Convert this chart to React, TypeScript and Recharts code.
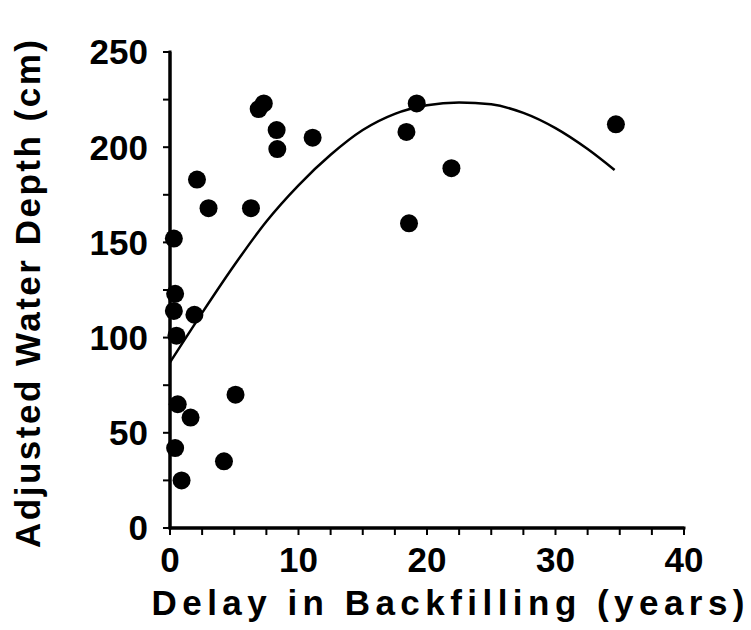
import { ScatterChart, Scatter, XAxis, YAxis, ReferenceLine } from "recharts";

// observed points (delay in years, adjusted water depth in cm)
const delayYears = [
  0.3, 0.4, 0.3, 1.9, 0.5, 0.6, 1.6, 5.1, 0.4, 4.2, 0.9, 2.1, 3.0, 6.3, 6.9, 7.3,
  8.3, 8.35, 11.1, 18.4, 19.2, 21.9, 18.6, 34.7,
];
const waterDepth = [
  152, 123, 114, 112, 101, 65, 58, 70, 42, 35, 25, 183, 168, 168, 220, 223, 209,
  199, 205, 208, 223, 189, 160, 212,
];

// fitted curve
const fitYears = [0, 2.5, 5, 7.5, 10, 12.5, 15, 17.5, 20, 22.5, 25, 27.5, 30, 32.5, 34.6];
const fitDepth = [87, 113, 138, 161, 180, 196, 209, 217.5, 222, 223.5, 222.5, 218, 210, 199, 188];

const xTicks = [0, 2.5, 5, 7.5, 10, 12.5, 15, 17.5, 20, 22.5, 25, 27.5, 30, 32.5, 35, 37.5, 40];
const yTicks = [0, 25, 50, 75, 100, 125, 150, 175, 200, 225, 250];

const points = delayYears.map((x, i) => ({ x, y: waterDepth[i] }));
const fit = fitYears.map((x, i) => ({ x, y: fitDepth[i] }));

const labelFont = {
  fontSize: 35,
  fontWeight: "bold" as const,
  fontFamily: "Liberation Sans",
  fill: "#000",
};

function Dot(props: { cx?: number; cy?: number }) {
  if (props.cx == null || props.cy == null) return <g />;
  return <circle cx={props.cx} cy={props.cy} r={9} fill="#000" />;
}

// tick marks drawn as filled rects, labels only on the major values
function XTick(props: any) {
  const v = props.payload?.value;
  const x = Number(props.x);
  const y = Number(props.y);
  return (
    <g>
      <rect x={x - 1} y={y - 19} width={2} height={7} fill="#000" />
      {v % 10 === 0 && (
        <text x={x} y={y} dy="0.71em" textAnchor="middle" {...labelFont}>
          {v}
        </text>
      )}
    </g>
  );
}

function YTick(props: any) {
  const v = props.payload?.value;
  const x = Number(props.x);
  const y = Number(props.y);
  return (
    <g>
      <rect x={x + 15} y={y - 1} width={7} height={2} fill="#000" />
      {v % 50 === 0 && (
        <text x={x} y={y} dy="0.355em" textAnchor="end" {...labelFont}>
          {v}
        </text>
      )}
    </g>
  );
}

function AxisBar(props: any) {
  const x1 = Number(props.x1);
  const y1 = Number(props.y1);
  const x2 = Number(props.x2);
  const y2 = Number(props.y2);
  if ([x1, y1, x2, y2].some((n) => Number.isNaN(n))) return <g />;
  const left = Math.min(x1, x2) - 1.5;
  const top = Math.min(y1, y2) - 1.5;
  return (
    <rect
      x={left}
      y={top}
      width={Math.abs(x2 - x1) + 3}
      height={Math.abs(y2 - y1) + 3}
      fill="#000"
    />
  );
}

export default function App() {
  return (
    <div style={{ position: "absolute", left: 0, top: 0, background: "#fff" }}>
      <ScatterChart
        width={751}
        height={630}
        margin={{ top: 52, right: 67, bottom: 0, left: 0 }}
      >
        <XAxis
          type="number"
          dataKey="x"
          domain={[0, 40]}
          ticks={xTicks}
          interval={0}
          height={102}
          tick={<XTick />}
          tickSize={7}
          tickMargin={12}
          stroke="#000"
          axisLine={{ stroke: "#000", strokeWidth: 3 }}
          tickLine={false}
          label={{
            content: () => (
              <text
                x={448}
                y={615}
                textAnchor="middle"
                textLength={593}
                lengthAdjust="spacing"
                {...labelFont}
              >
                Delay in Backfilling (years)
              </text>
            ),
          }}
        />
        <YAxis
          type="number"
          dataKey="y"
          domain={[0, 250]}
          ticks={yTicks}
          interval={0}
          width={170}
          tick={<YTick />}
          tickSize={7}
          tickMargin={15}
          stroke="#000"
          axisLine={{ stroke: "#000", strokeWidth: 3 }}
          tickLine={false}
          label={{
            content: () => (
              <text
                x={40}
                y={294}
                textAnchor="middle"
                transform="rotate(-90, 40, 294)"
                textLength={508}
                lengthAdjust="spacing"
                {...labelFont}
              >
                Adjusted Water Depth (cm)
              </text>
            ),
          }}
        />
        <ReferenceLine x={0} ifOverflow="visible" shape={<AxisBar />} />
        <ReferenceLine y={0} ifOverflow="visible" shape={<AxisBar />} />
        <Scatter data={points} shape={<Dot />} isAnimationActive={false} />
        <Scatter
          data={fit}
          shape={() => <g />}
          line={{ stroke: "#000", strokeWidth: 2.5 }}
          lineJointType="monotoneX"
          isAnimationActive={false}
        />
      </ScatterChart>
    </div>
  );
}
